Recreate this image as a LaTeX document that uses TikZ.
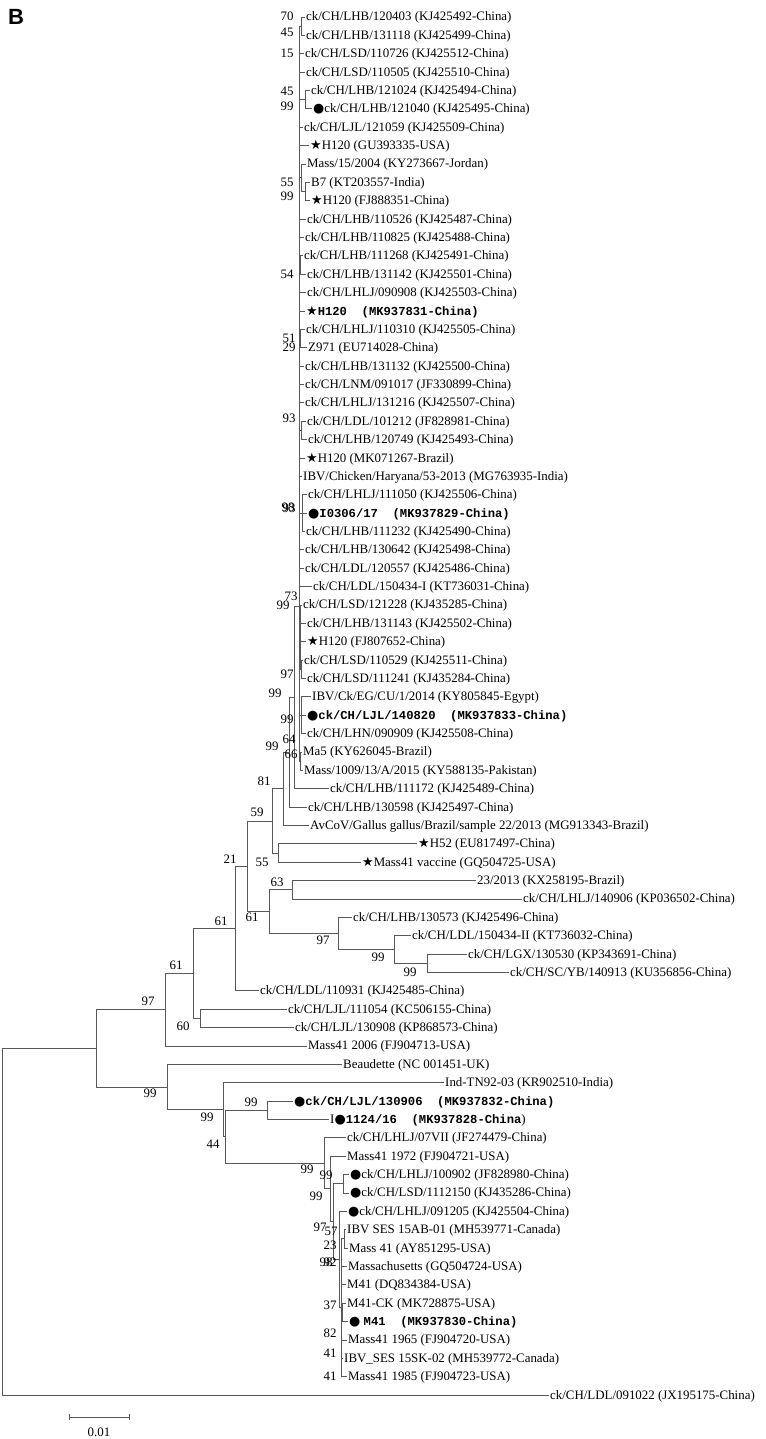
\documentclass[tikz,border=0pt]{standalone}
\usepackage{fontspec}
\setmainfont{Liberation Serif}
\setsansfont{Liberation Sans}
\setmonofont{Liberation Mono}
\newfontfamily\symf{DejaVu Sans}
\newcommand{\mdot}{{\symf ●}}
\newcommand{\mstar}{{\symf ★}}
\newcommand{\bmo}[1]{{\ttfamily\bfseries\fontsize{12.2}{14}\selectfont #1}}
\newcommand{\lbl}{\fontsize{12.9}{14}\selectfont}

\begin{document}
\begin{tikzpicture}[x=1pt, y=-1pt,
    leaf/.style={anchor=west, inner xsep=1.5pt, inner ysep=0pt, text height=8.6pt, text depth=0.6pt, font=\lbl},
    bs/.style={inner sep=0pt, font=\lbl},
    br/.style={draw=black!65, line width=0.8pt}]
\useasboundingbox (0,0) rectangle (765,1439);

% Letra del panel
\node [font=\sffamily\bfseries\fontsize{22}{24}\selectfont] (panel) at (16,17) {B};

% Hojas
\node [leaf] (l1) at (304.5,17.0) {ck/CH/LHB/120403 (KJ425492-China)};
\node [leaf] (l2) at (304.5,35.4) {ck/CH/LHB/131118 (KJ425499-China)};
\node [leaf] (l3) at (303.5,53.7) {ck/CH/LSD/110726 (KJ425512-China)};
\node [leaf] (l4) at (304.5,72.1) {ck/CH/LSD/110505 (KJ425510-China)};
\node [leaf] (l5) at (309.5,90.5) {ck/CH/LHB/121024 (KJ425494-China)};
\node [leaf] (l6) at (311.5,108.9) {\mdot ck/CH/LHB/121040 (KJ425495-China)};
\node [leaf] (l7) at (302.5,127.2) {ck/CH/LJL/121059 (KJ425509-China)};
\node [leaf] (l8) at (308.5,145.6) {\mstar H120 (GU393335-USA)};
\node [leaf] (l9) at (305.5,164.0) {Mass/15/2004 (KY273667-Jordan)};
\node [leaf] (l10) at (309.5,182.4) {B7 (KT203557-India)};
\node [leaf] (l11) at (309.5,200.7) {\mstar H120 (FJ888351-China)};
\node [leaf] (l12) at (305.5,219.1) {ck/CH/LHB/110526 (KJ425487-China)};
\node [leaf] (l13) at (303.5,237.5) {ck/CH/LHB/110825 (KJ425488-China)};
\node [leaf] (l14) at (302.5,255.8) {ck/CH/LHB/111268 (KJ425491-China)};
\node [leaf] (l15) at (305.5,274.2) {ck/CH/LHB/131142 (KJ425501-China)};
\node [leaf] (l16) at (305.5,292.6) {ck/CH/LHLJ/090908 (KJ425503-China)};
\node [leaf] (l17) at (304.5,311.0) {\mstar\bmo{H120\ \ (MK937831-China)}};
\node [leaf] (l18) at (304.5,329.3) {ck/CH/LHLJ/110310 (KJ425505-China)};
\node [leaf] (l19) at (306.5,347.7) {Z971 (EU714028-China)};
\node [leaf] (l20) at (303.5,366.1) {ck/CH/LHB/131132 (KJ425500-China)};
\node [leaf] (l21) at (303.5,384.5) {ck/CH/LNM/091017 (JF330899-China)};
\node [leaf] (l22) at (303.5,402.8) {ck/CH/LHLJ/131216 (KJ425507-China)};
\node [leaf] (l23) at (305.5,421.2) {ck/CH/LDL/101212 (JF828981-China)};
\node [leaf] (l24) at (306.5,439.6) {ck/CH/LHB/120749 (KJ425493-China)};
\node [leaf] (l25) at (304.5,458.0) {\mstar H120 (MK071267-Brazil)};
\node [leaf] (l26) at (301.5,476.3) {IBV/Chicken/Haryana/53-2013 (MG763935-India)};
\node [leaf] (l27) at (306.5,494.7) {ck/CH/LHLJ/111050 (KJ425506-China)};
\node [leaf] (l28) at (306.5,513.1) {\mdot\bmo{I0306/17\ \ (MK937829-China)}};
\node [leaf] (l29) at (304.5,531.4) {ck/CH/LHB/111232 (KJ425490-China)};
\node [leaf] (l30) at (303.5,549.8) {ck/CH/LHB/130642 (KJ425498-China)};
\node [leaf] (l31) at (303.5,568.2) {ck/CH/LDL/120557 (KJ425486-China)};
\node [leaf] (l32) at (311.5,586.6) {ck/CH/LDL/150434-I (KT736031-China)};
\node [leaf] (l33) at (301.5,604.9) {ck/CH/LSD/121228 (KJ435285-China)};
\node [leaf] (l34) at (305.5,623.3) {ck/CH/LHB/131143 (KJ425502-China)};
\node [leaf] (l35) at (305.5,641.7) {\mstar H120 (FJ807652-China)};
\node [leaf] (l36) at (302.5,660.1) {ck/CH/LSD/110529 (KJ425511-China)};
\node [leaf] (l37) at (305.5,678.4) {ck/CH/LSD/111241 (KJ435284-China)};
\node [leaf] (l38) at (310.5,696.8) {IBV/Ck/EG/CU/1/2014 (KY805845-Egypt)};
\node [leaf] (l39) at (305.5,715.2) {\mdot\bmo{ck/CH/LJL/140820\ \ (MK937833-China)}};
\node [leaf] (l40) at (305.5,733.5) {ck/CH/LHN/090909 (KJ425508-China)};
\node [leaf] (l41) at (301.5,751.9) {Ma5 (KY626045-Brazil)};
\node [leaf] (l42) at (302.5,770.3) {Mass/1009/13/A/2015 (KY588135-Pakistan)};
\node [leaf] (l43) at (328.5,788.7) {ck/CH/LHB/111172 (KJ425489-China)};
\node [leaf] (l44) at (306.5,807.0) {ck/CH/LHB/130598 (KJ425497-China)};
\node [leaf] (l45) at (308.5,825.4) {AvCoV/Gallus gallus/Brazil/sample 22/2013 (MG913343-Brazil)};
\node [leaf] (l46) at (416.5,843.8) {\mstar H52 (EU817497-China)};
\node [leaf] (l47) at (360.5,862.2) {\mstar Mass41 vaccine (GQ504725-USA)};
\node [leaf] (l48) at (475.5,880.5) {23/2013 (KX258195-Brazil)};
\node [leaf] (l49) at (521.5,898.9) {ck/CH/LHLJ/140906 (KP036502-China)};
\node [leaf] (l50) at (351.5,917.3) {ck/CH/LHB/130573 (KJ425496-China)};
\node [leaf] (l51) at (410.5,935.6) {ck/CH/LDL/150434-II (KT736032-China)};
\node [leaf] (l52) at (466.5,954.0) {ck/CH/LGX/130530 (KP343691-China)};
\node [leaf] (l53) at (508.5,972.4) {ck/CH/SC/YB/140913 (KU356856-China)};
\node [leaf] (l54) at (258.5,990.8) {ck/CH/LDL/110931 (KJ425485-China)};
\node [leaf] (l55) at (286.5,1009.1) {ck/CH/LJL/111054 (KC506155-China)};
\node [leaf] (l56) at (293.5,1027.5) {ck/CH/LJL/130908 (KP868573-China)};
\node [leaf] (l57) at (306.5,1045.9) {Mass41 2006 (FJ904713-USA)};
\node [leaf] (l58) at (341.5,1064.3) {Beaudette (NC 001451-UK)};
\node [leaf] (l59) at (443.5,1082.6) {Ind-TN92-03 (KR902510-India)};
\node [leaf] (l60) at (292.5,1101.0) {\mdot\bmo{ck/CH/LJL/130906\ \ (MK937832-China)}};
\node [leaf] (l61) at (328.5,1119.4) {I\mdot\bmo{1124/16\ \ (MK937828-China})};
\node [leaf] (l62) at (345.5,1137.8) {ck/CH/LHLJ/07VII (JF274479-China)};
\node [leaf] (l63) at (345.5,1156.1) {Mass41 1972 (FJ904721-USA)};
\node [leaf] (l64) at (348.5,1174.5) {\mdot ck/CH/LHLJ/100902 (JF828980-China)};
\node [leaf] (l65) at (348.5,1192.9) {\mdot ck/CH/LSD/1112150 (KJ435286-China)};
\node [leaf] (l66) at (346.5,1211.2) {\mdot ck/CH/LHLJ/091205 (KJ425504-China)};
\node [leaf] (l67) at (345.5,1229.6) {IBV SES 15AB-01 (MH539771-Canada)};
\node [leaf] (l68) at (347.5,1248.0) {Mass 41 (AY851295-USA)};
\node [leaf] (l69) at (346.5,1266.4) {Massachusetts (GQ504724-USA)};
\node [leaf] (l70) at (345.5,1284.7) {M41 (DQ834384-USA)};
\node [leaf] (l71) at (345.5,1303.1) {M41-CK (MK728875-USA)};
\node [leaf] (l72) at (347.5,1321.5) {\mdot\ \bmo{M41\ \ (MK937830-China)}};
\node [leaf] (l73) at (346.5,1339.9) {Mass41 1965 (FJ904720-USA)};
\node [leaf] (l74) at (342.5,1358.2) {IBV\_SES 15SK-02 (MH539772-Canada)};
\node [leaf] (l75) at (346.5,1376.6) {Mass41 1985 (FJ904723-USA)};
\node [leaf] (l76) at (548.5,1395.0) {ck/CH/LDL/091022 (JX195175-China)};

% Nodos internos
\coordinate (n1) at (301,26.2);
\coordinate (n2) at (305,99.7);
\coordinate (n3) at (301,177.8);
\coordinate (n3b) at (305,191.55);
\coordinate (n4) at (300.5,265);
\coordinate (n5) at (300.5,338.5);
\coordinate (n6) at (301,430.4);
\coordinate (n7) at (302,513.05);
\coordinate (n8) at (300,637.1);
\coordinate (n8a) at (301,669.25);
\coordinate (n9) at (301,715.15);
\coordinate (n10) at (300.5,761.1);
\coordinate (nT) at (299,606);
\coordinate (N64) at (294,697.35);
\coordinate (N99) at (289,752.2);
\coordinate (N81) at (283,788.8);
\coordinate (N55) at (278,853);
\coordinate (N59) at (272,820.9);
\coordinate (N63) at (292,889.7);
\coordinate (N99e) at (427,963.2);
\coordinate (N99d) at (394,949.4);
\coordinate (N97) at (338,933.35);
\coordinate (N61b) at (269,911.5);
\coordinate (N21) at (247,866.2);
\coordinate (N61a) at (235,928.5);
\coordinate (N60) at (200,1018.3);
\coordinate (N61c) at (193,973.4);
\coordinate (N97a) at (165,1009.65);
\coordinate (N99g) at (267,1110.2);
\coordinate (N99k) at (343,1183.7);
\coordinate (N23) at (344,1238.8);
\coordinate (N37) at (342.5,1312.3);
\coordinate (N57) at (341,1307.7);
\coordinate (N97b) at (339,1259.45);
\coordinate (N99j) at (333,1221.6);
\coordinate (N99i) at (330,1188.85);
\coordinate (N99h) at (324,1163.3);
\coordinate (N44) at (225,1136.75);
\coordinate (N99f) at (223,1109.7);
\coordinate (NB99) at (167,1087);
\coordinate (Nbig) at (96,1048.3);
\coordinate (root) at (2,1221.65);

% Ramas: grupo superior
\draw [br] (n1) |- (l1.west) (n1) |- (l2.west);
\draw [br] (n2) |- (l5.west) (n2) |- (l6.west);
\draw [br] (n3b) |- (l10.west) (n3b) |- (l11.west);
\draw [br] (n3) |- (l9.west) (n3) |- (n3b);
\draw [br] (n4) |- (l14.west) (n4) |- (l15.west);
\draw [br] (n5) |- (l18.west) (n5) |- (l19.west);
\draw [br] (n6) |- (l23.west) (n6) |- (l24.west);
\draw [br] (n7) |- (l27.west) (n7) |- (l28.west) (n7) |- (l29.west);
\draw [br] (n8a) |- (l36.west) (n8a) |- (l37.west);
\draw [br] (n8) |- (l33.west) (n8) |- (l34.west) (n8) |- (l35.west) (n8) |- (n8a);
\draw [br] (n9) |- (l38.west) (n9) |- (l39.west) (n9) |- (l40.west);
\draw [br] (n10) |- (l41.west) (n10) |- (l42.west);
\draw [br] (nT) |- (n1) (nT) |- (l3.west) (nT) |- (l4.west) (nT) |- (n2)
    (nT) |- (l7.west) (nT) |- (l8.west) (nT) |- (n3) (nT) |- (l12.west)
    (nT) |- (l13.west) (nT) |- (n4) (nT) |- (l16.west) (nT) |- (l17.west)
    (nT) |- (n5) (nT) |- (l20.west) (nT) |- (l21.west) (nT) |- (l22.west)
    (nT) |- (n6) (nT) |- (l25.west) (nT) |- (l26.west) (nT) |- (n7)
    (nT) |- (l30.west) (nT) |- (l31.west) (nT) |- (l32.west) (nT) |- (n8)
    (nT) |- (n9) (nT) |- (n10);
\draw [br] (N64) |- (nT) (N64) |- (l43.west);
\draw [br] (N99) |- (N64) (N99) |- (l44.west);
\draw [br] (N81) |- (N99) (N81) |- (l45.west);
\draw [br] (N55) |- (l46.west) (N55) |- (l47.west);
\draw [br] (N59) |- (N81) (N59) |- (N55);
\draw [br] (N63) |- (l48.west) (N63) |- (l49.west);
\draw [br] (N99e) |- (l52.west) (N99e) |- (l53.west);
\draw [br] (N99d) |- (l51.west) (N99d) |- (N99e);
\draw [br] (N97) |- (l50.west) (N97) |- (N99d);
\draw [br] (N61b) |- (N63) (N61b) |- (N97);
\draw [br] (N21) |- (N59) (N21) |- (N61b);
\draw [br] (N61a) |- (N21) (N61a) |- (l54.west);
\draw [br] (N60) |- (l55.west) (N60) |- (l56.west);
\draw [br] (N61c) |- (N61a) (N61c) |- (N60);
\draw [br] (N97a) |- (N61c) (N97a) |- (l57.west);

% Ramas: grupo inferior
\draw [br] (N99g) |- (l60.west) (N99g) |- (l61.west);
\draw [br] (N99k) |- (l64.west) (N99k) |- (l65.west);
\draw [br] (N23) |- (l67.west) (N23) |- (l68.west);
\draw [br] (N37) |- (l71.west) (N37) |- (l72.west);
\draw [br] (N57) |- (N23) (N57) |- (l69.west) (N57) |- (l70.west) (N57) |- (N37)
    (N57) |- (l73.west) (N57) |- (l74.west) (N57) |- (l75.west);
\draw [br] (N97b) |- (l66.west) (N97b) |- (N57);
\draw [br] (N99j) |- (N99k) (N99j) |- (N97b);
\draw [br] (N99i) |- (l63.west) (N99i) |- (N99j);
\draw [br] (N99h) |- (l62.west) (N99h) |- (N99i);
\draw [br] (N44) |- (N99g) (N44) |- (N99h);
\draw [br] (N99f) |- (l59.west) (N99f) |- (N44);
\draw [br] (NB99) |- (l58.west) (NB99) |- (N99f);
\draw [br] (Nbig) |- (N97a) (Nbig) |- (NB99);
\draw [br] (root) |- (Nbig) (root) |- (l76.west);

% Valores bootstrap
\node [bs] (b1) at (287,16) {70};
\node [bs] (b2) at (287,32) {45};
\node [bs] (b3) at (287,53) {15};
\node [bs] (b4) at (287,91) {45};
\node [bs] (b5) at (287,106) {99};
\node [bs] (b6) at (287,182) {55};
\node [bs] (b7) at (287,196) {99};
\node [bs] (b8) at (287,274) {54};
\node [bs] (b9) at (289,338) {51};
\node [bs] (b10) at (289,347) {29};
\node [bs] (b11) at (289,418) {93};
\node [bs] (b12) at (288,507) {98};
\node [bs] (b13) at (289,508) {93};
\node [bs] (b14) at (291,596) {73};
\node [bs] (b15) at (283,605) {99};
\node [bs] (b16) at (287,674) {97};
\node [bs] (b17) at (275,693) {99};
\node [bs] (b18) at (287,719) {99};
\node [bs] (b19) at (289,739) {64};
\node [bs] (b20) at (272,746) {99};
\node [bs] (b21) at (291,754) {66};
\node [bs] (b22) at (264,781) {81};
\node [bs] (b23) at (257,812) {59};
\node [bs] (b24) at (230,859) {21};
\node [bs] (b25) at (262,862) {55};
\node [bs] (b26) at (277,882) {63};
\node [bs] (b27) at (252,917) {61};
\node [bs] (b28) at (221,921) {61};
\node [bs] (b29) at (323,940) {97};
\node [bs] (b30) at (378,957) {99};
\node [bs] (b31) at (176,965) {61};
\node [bs] (b32) at (410,972) {99};
\node [bs] (b33) at (148,1001) {97};
\node [bs] (b34) at (183,1026) {60};
\node [bs] (b35) at (150,1093) {99};
\node [bs] (b36) at (251,1102) {99};
\node [bs] (b37) at (207,1117) {99};
\node [bs] (b38) at (213,1144) {44};
\node [bs] (b39) at (307,1169) {99};
\node [bs] (b40) at (326,1175) {99};
\node [bs] (b41) at (316,1196) {99};
\node [bs] (b42) at (320,1227) {97};
\node [bs] (b43) at (331,1231) {57};
\node [bs] (b44) at (330,1245) {23};
\node [bs] (b45) at (326,1262) {98};
\node [bs] (b46) at (330,1262) {92};
\node [bs] (b47) at (330,1305) {37};
\node [bs] (b48) at (330,1333) {82};
\node [bs] (b49) at (330,1353) {41};
\node [bs] (b50) at (330,1376) {41};

% Escala
\coordinate (s0) at (69,1417);
\coordinate (s1) at (129,1417);
\draw [br] (s0) -- (s1);
\draw [br] (s0) ++(0,-3) -- ++(0,6);
\draw [br] (s1) ++(0,-3) -- ++(0,6);
\node [bs] (escala) at (99,1432) {0.01};
\end{tikzpicture}
\end{document}
